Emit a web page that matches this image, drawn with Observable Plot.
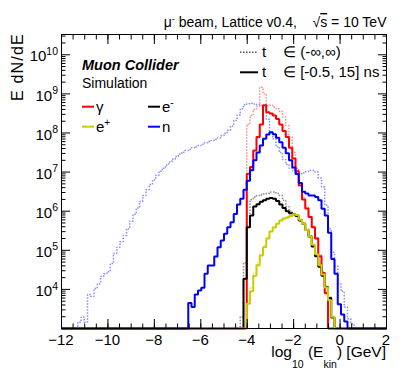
<!DOCTYPE html>
<html><head><meta charset="utf-8">
<script src="https://cdn.jsdelivr.net/npm/d3@7"></script>
<script src="https://cdn.jsdelivr.net/npm/@observablehq/plot@0.6"></script>
<style>
html,body{margin:0;padding:0;background:#fff;}
#chart{width:407px;height:391px;}
</style></head><body><div id="chart"></div>
<script>
// Histogram binning (x = log10(Ekin/GeV))
const binLow = -12, binWidth = 0.14, nBins = 100;
const yFloor = 1e3, yTop = 3.3e10;

// log10(E dN/dE) per bin; each array starts at the bin index given by *Start
const gammaAllStart = 57;
const gammaAll = [8.22,8.45,8.60,8.68,9.17,9.00,8.70,8.71,8.66,8.62,8.55,8.41,8.19,7.90,7.50,7.10,6.70,6.35,6.10,5.88,5.62,5.32,4.88,4.46,3.93];
const eMinusAllStart = 55;
const eMinusAll = [3.30,4.68,5.95,6.30,6.36,6.40,6.42,6.44,6.46,6.49,6.49,6.45,6.40,6.28,6.12,6.00,5.93,5.89,5.78,5.70,5.54,5.37,5.12,4.87,4.60,4.37,4.08,3.80,3.30];
const ePlusAllStart = 57;
const ePlusAll = [3.70,4.05,4.42,4.68,4.92,5.12,5.33,5.50,5.60,5.69,5.77,5.82,5.85,5.89,5.93,5.91,5.79,5.69,5.53,5.37,5.15,4.91,4.63,4.39,4.06,3.73,3.31];
const nAllStart = 5;
const nAll = [3.16,3.29,3.16,3.87,3.82,4.02,4.14,4.33,4.40,4.45,
  4.66,4.92,5.08,5.22,5.38,5.55,5.75,5.92,6.08,6.25,
  6.40,6.55,6.68,6.80,6.92,7.02,7.10,7.18,7.26,7.33,
  7.40,7.46,7.51,7.55,7.58,7.62,7.65,7.68,7.71,7.75,
  7.78,7.81,7.84,7.88,7.93,7.99,8.07,8.18,8.32,8.46,
  8.62,8.72,8.75,8.76,8.74,8.72,8.71,8.66,8.35,8.02,
  7.85,7.65,7.50,7.32,7.20,7.10,7.04,6.98,6.96,6.98,
  7.01,7.04,7.04,7.00,6.85,6.62,6.15,5.55,4.95,4.60,
  4.15,3.95,3.55,3.25,3.12];

const gammaWinStart = 57;
const gammaWin = [6.96,7.13,7.55,7.90,8.22,8.71,8.53,8.50,8.45,8.36,8.22,8.05,7.90,7.62,7.35,7.02,6.66,6.30,6.07,5.85,5.59,5.30,4.85,4.42,3.90];
const eMinusWinStart = 56;
const eMinusWin = [4.27,5.59,5.89,6.12,6.18,6.24,6.28,6.32,6.34,6.32,6.26,6.17,6.08,6.00,5.95,5.92,5.88,5.76,5.68,5.52,5.35,5.10,4.85,4.58,4.35,4.06,3.78,3.28];
const ePlusWinStart = 57;
const ePlusWin = [3.63,3.95,4.35,4.62,4.87,5.08,5.30,5.48,5.58,5.68,5.76,5.81,5.84,5.88,5.92,5.90,5.78,5.68,5.52,5.36,5.14,4.90,4.62,4.38,4.05,3.72,3.30];
const nWinStart = 39;
const nWin = [3.65,3.55,3.87,3.97,4.04,4.40,4.61,4.61,4.84,5.08,
  5.25,5.42,5.59,5.72,5.93,6.17,6.32,6.55,6.78,7.05,
  7.30,7.50,7.68,7.85,7.96,8.02,7.97,7.88,7.76,7.62,
  7.48,7.30,7.12,6.95,6.72,6.50,6.45,6.40,6.40,6.36,
  6.28,6.06,5.89,5.45,4.78,4.40,3.62,3.36,3.18];

// ticks
const xMajorTicks = [-12,-10,-8,-6,-4,-2,0,2];
const xMinorTicks = d3.range(-12, 2.001, 0.5);
const yExponents = [4,5,6,7,8,9,10];
const yMajorTicks = [1e3,1e4,1e5,1e6,1e7,1e8,1e9,1e10];
const yMinorTicks = [];
for (let e = 3; e <= 10; e++) for (let m = 2; m <= 9; m++) if (m * 10 ** e <= yTop) yMinorTicks.push(m * 10 ** e);

function outline(start, logs) {
  const pts = [];
  for (let i = 0; i < nBins; i++) {
    const j = i - start;
    const v = (j >= 0 && j < logs.length && logs[j] > 0) ? 10 ** logs[j] : yFloor;
    pts.push({x: binLow + i * binWidth, y: v}, {x: binLow + (i + 1) * binWidth, y: v});
  }
  return pts;
}

const series = [
  {start: gammaAllStart, vals: gammaAll, color: "#ff8c8c", w: 1.5, dash: "1.5,1.5"},
  {start: eMinusAllStart, vals: eMinusAll, color: "#8c8c8c", w: 1.5, dash: "1.5,1.5"},
  {start: ePlusAllStart, vals: ePlusAll, color: "#e4e48a", w: 1.5, dash: "1.5,1.5"},
  {start: nAllStart, vals: nAll, color: "#8c8cff", w: 1.5, dash: "1.5,1.5"},
  {start: gammaWinStart, vals: gammaWin, color: "#ff0000", w: 2, dash: null},
  {start: eMinusWinStart, vals: eMinusWin, color: "#000000", w: 2, dash: null},
  {start: ePlusWinStart, vals: ePlusWin, color: "#cccc00", w: 2, dash: null},
  {start: nWinStart, vals: nWin, color: "#0000ff", w: 2, dash: null}
];

const F = '"Liberation Sans", Arial, Helvetica, sans-serif';
const blank = () => "";

const plot = Plot.plot({
  width: 407, height: 391,
  marginLeft: 61, marginRight: 21, marginTop: 34, marginBottom: 63,
  style: {fontFamily: F, fontSize: "15px", background: "white"},
  x: {domain: [-12, 2], label: null},
  y: {type: "log", domain: [yFloor, yTop], clamp: true, label: null},
  marks: [
    ...series.map(s => Plot.line(outline(s.start, s.vals), {
      x: "x", y: "y", stroke: s.color, strokeWidth: s.w,
      strokeDasharray: s.dash, strokeLinejoin: "miter", strokeLinecap: "butt"
    })),
    Plot.axisX(xMajorTicks, {anchor: "bottom", tickSize: -9, tickFormat: blank, label: null}),
    Plot.axisX(xMinorTicks, {anchor: "bottom", tickSize: -4.5, tickFormat: blank, label: null}),
    Plot.axisX(xMajorTicks, {anchor: "top", tickSize: -9, tickFormat: blank, label: null}),
    Plot.axisX(xMinorTicks, {anchor: "top", tickSize: -4.5, tickFormat: blank, label: null}),
    Plot.axisY(yMajorTicks, {anchor: "left", tickSize: -9, tickFormat: blank, label: null}),
    Plot.axisY(yMinorTicks, {anchor: "left", tickSize: -4.5, tickFormat: blank, label: null}),
    Plot.axisY(yMajorTicks, {anchor: "right", tickSize: -9, tickFormat: blank, label: null}),
    Plot.axisY(yMinorTicks, {anchor: "right", tickSize: -4.5, tickFormat: blank, label: null}),
    Plot.frame({stroke: "black", strokeWidth: 1})
  ]
});
document.getElementById("chart").appendChild(plot);

const sx = plot.scale("x"), sy = plot.scale("y");
const svg = d3.select(plot);
const g = svg.append("g").attr("font-family", F).attr("fill", "black").attr("text-anchor", "start");

function addText(x, y, parts, attrs = {}) {
  const t = g.append("text").attr("x", x).attr("y", y).attr("text-anchor", "start");
  for (const k in attrs) t.attr(k, attrs[k]);
  let cur = 0;
  for (const p of parts) {
    const sp = t.append("tspan").text(p.t);
    const sh = p.shift || 0;
    if (sh - cur !== 0) sp.attr("dy", sh - cur);
    cur = sh;
    if (p.size) sp.attr("font-size", p.size);
    if (p.deco) sp.attr("text-decoration", p.deco);
  }
  return t;
}

// x tick labels
for (const v of xMajorTicks) {
  addText(sx.apply(v), 344.5, [{t: v < 0 ? "\u2212" + Math.abs(v) : String(v)}], {"text-anchor": "middle", "font-size": 15});
}
// y tick labels
for (const e of yExponents) {
  addText(58, sy.apply(10 ** e) + 7.2, [{t: "10", size: 15}, {t: String(e), size: 10.5, shift: -6.5}], {"text-anchor": "end"});
}
// axis titles
addText(386, 357, [
  {t: "log", size: 15.5}, {t: "10", size: 10.5, shift: 11}, {t: " (E", size: 15.5},
  {t: "kin", size: 10.5, shift: 11}, {t: ") [GeV]", size: 15.5}
], {"text-anchor": "end"});
addText(0, 0, [{t: "E dN/dE"}], {"text-anchor": "end", "font-size": 16, "letter-spacing": 1.2,
  transform: "translate(23,33) rotate(-90)"});

// header
addText(386.5, 27, [
  {t: "\u03bc"}, {t: "-", size: 9, shift: -5}, {t: " beam, Lattice v0.4,    \u221a"},
  {t: "s", deco: "overline"}, {t: " = 10 TeV"}
], {"text-anchor": "end", "font-size": 14});

// time-window legend
g.append("line").attr("x1", 240).attr("x2", 258).attr("y1", 52.3).attr("y2", 52.3)
  .attr("stroke", "#555").attr("stroke-width", 1.5).attr("stroke-dasharray", "1.5,1.5");
g.append("line").attr("x1", 240).attr("x2", 258).attr("y1", 72.3).attr("y2", 72.3)
  .attr("stroke", "#000").attr("stroke-width", 2);
addText(262, 57, [{t: "t"}], {"font-size": 15});
addText(283, 57, [{t: "\u2208 (-\u221e,\u221e)"}], {"font-size": 15});
addText(262, 77, [{t: "t"}], {"font-size": 15});
addText(283, 77, [{t: "\u2208 [-0.5, 15] ns"}], {"font-size": 15});

// experiment label
addText(82, 69.5, [{t: "Muon Collider"}], {"font-size": 14.5, "font-weight": "bold", "font-style": "italic"});
addText(82, 88, [{t: "Simulation"}], {"font-size": 14});

// particle legend
const legendItems = [
  {x: 82, y: 106.7, color: "#ff0000", parts: [{t: "\u03b3"}]},
  {x: 148, y: 106.7, color: "#000000", parts: [{t: "e"}, {t: "-", size: 10, shift: -6}]},
  {x: 82, y: 126.7, color: "#cccc00", parts: [{t: "e"}, {t: "+", size: 10, shift: -6}]},
  {x: 148, y: 126.7, color: "#0000ff", parts: [{t: "n"}]}
];
for (const it of legendItems) {
  g.append("line").attr("x1", it.x).attr("x2", it.x + 12).attr("y1", it.y).attr("y2", it.y)
    .attr("stroke", it.color).attr("stroke-width", 2);
  addText(it.x + 14, it.y + 4.8, it.parts, {"font-size": 15});
}
</script></body></html>
